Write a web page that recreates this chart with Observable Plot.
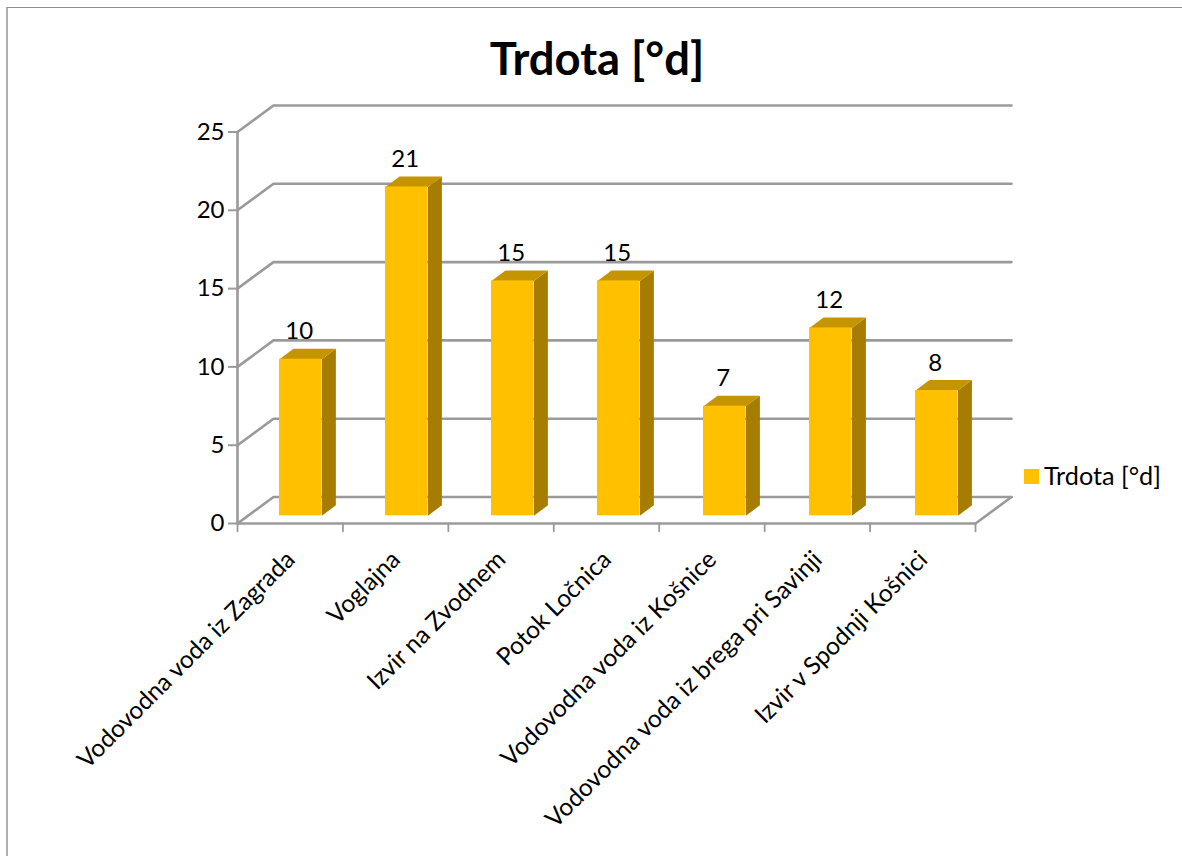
<!DOCTYPE html>
<html>
<head>
<meta charset="utf-8">
<script src="https://cdn.jsdelivr.net/npm/d3@7"></script>
<script src="https://cdn.jsdelivr.net/npm/@observablehq/plot@0.6"></script>
<style>
  html, body { margin: 0; padding: 0; background: #fff; width: 1182px; height: 856px; overflow: hidden; }
  #page { position: relative; width: 1182px; height: 856px; font-family: Lato, sans-serif; color: #000; }
  #frame { position: absolute; left: 6px; top: 7px; width: 1176px; height: 849px; box-sizing: border-box;
           border-left: 2px solid #b0b0b0; border-top: 1px solid #8e8e8e; }
  #title { position: relative; margin: 0; height: 90px; line-height: 116px; text-align: center; padding-left: 12px;
           font-size: 45.4px; font-weight: 700; }
  #legend { position: absolute; left: 1024px; top: 459px; display: flex; align-items: center; font-size: 25.2px; line-height: 32px; }
  #legend i { display: block; width: 15px; height: 15px; background: #ffc000; margin: 2px 5px 0 0; }
  #chart { position: relative; }
  #chart svg { display: block; }
</style>
</head>
<body>
<div id="page">
  <div id="frame"></div>
  <h1 id="title"></h1>
  <div id="chart"></div>
  <div id="legend"><i></i><span id="legend-label"></span></div>
</div>
<script>
const seriesName = "Trdota [°d]";
const categories = [
  "Vodovodna voda iz Zagrada",
  "Voglajna",
  "Izvir na Zvodnem",
  "Potok Ločnica",
  "Vodovodna voda iz Košnice",
  "Vodovodna voda iz brega pri Savinji",
  "Izvir v Spodnji Košnici"
];
const hardness = [10, 21, 15, 15, 7, 12, 8];
const yTicks = [0, 5, 10, 15, 20, 25];

// Oblique projection expressed in scale units: one category slot along x, one degree along y.
const wallDx = 0.3415, wallDy = 1.692;     // floor depth, front edge to back wall
const barLeft = 0.398, barWidth = 0.402;   // front face inside its slot
const barStep = 1.0055;                    // columns sit slightly wider apart than the axis slots
const barBase = 0.49;                      // bars stand part-way back on the floor
const barDx = 0.133, barDy = 0.67;         // depth of each column

const slots = categories.map((_, i) => i);
const bars = categories.map((name, i) => ({
  name,
  value: hardness[i],
  x1: i * barStep + barLeft,
  x2: i * barStep + barLeft + barWidth,
  y1: barBase,
  y2: barBase + hardness[i]
}));

// Polygon vertices for the visible side and top of each column.
const sideFaces = bars.flatMap((b) => [
  {z: b.name, x: b.x2, y: b.y1},
  {z: b.name, x: b.x2 + barDx, y: b.y1 + barDy},
  {z: b.name, x: b.x2 + barDx, y: b.y2 + barDy},
  {z: b.name, x: b.x2, y: b.y2}
]);
const topFaces = bars.flatMap((b) => [
  {z: b.name, x: b.x1, y: b.y2},
  {z: b.name, x: b.x1 + barDx, y: b.y2 + barDy},
  {z: b.name, x: b.x2 + barDx, y: b.y2 + barDy},
  {z: b.name, x: b.x2, y: b.y2}
]);

// Wall lines: each tick runs up the left wall, then along the back wall.
const n = categories.length;
const wallLines = yTicks.flatMap((t) => [
  {z: t, x: 0, y: t},
  {z: t, x: wallDx, y: t + wallDy},
  {z: t, x: n + wallDx, y: t + wallDy}
]);
const floorEdge = [
  {x: 0, y: 0},
  {x: n, y: 0},
  {x: n + wallDx, y: wallDy}
];
const leftEdge = [{x: 0, y: 0}, {x: 0, y: 25}];
const xTickMarks = d3.range(n + 1).flatMap((i) => [
  {z: i, x: i, y: 0},
  {z: i, x: i, y: -0.5}
]);

const grey = "#9a9a9a";
const lineWidth = 2.6;

const chart = Plot.plot({
  width: 1182,
  height: 766,
  marginLeft: 237,
  marginRight: 207,
  marginTop: 41.5,
  marginBottom: 333,
  style: {background: "transparent", fontFamily: "Lato, sans-serif", overflow: "visible"},
  x: {type: "linear", domain: [0, n], axis: null},
  y: {type: "linear", domain: [0, 25], axis: null},
  marks: [
    Plot.line(wallLines, {x: "x", y: "y", z: "z", stroke: grey, strokeWidth: lineWidth}),
    Plot.line(floorEdge, {x: "x", y: "y", stroke: grey, strokeWidth: lineWidth}),
    Plot.line(leftEdge, {x: "x", y: "y", stroke: grey, strokeWidth: lineWidth}),
    Plot.axisY({
      ticks: yTicks, tickSize: 9, tickPadding: 4, stroke: grey, strokeWidth: 2,
      fill: "#000", fontSize: 24, fontWeight: 400, label: null, tickFormat: (d) => d, textStroke: "none"
    }),
    Plot.line(xTickMarks, {x: "x", y: "y", z: "z", stroke: grey, strokeWidth: 1.8}),
    Plot.line(sideFaces, {x: "x", y: "y", z: "z", fill: "#a67d00", stroke: null}),
    Plot.line(topFaces, {x: "x", y: "y", z: "z", fill: "#c49500", stroke: null}),
    Plot.rect(bars, {x1: "x1", x2: "x2", y1: "y1", y2: "y2", fill: "#ffc000"}),
    Plot.text(bars, {
      x: (b) => (b.x1 + b.x2) / 2,
      y: (b) => b.y2 + barDy,
      text: "value",
      dx: -1.5,
      dy: -17,
      fontSize: 24,
      fill: "#000"
    }),
    Plot.text(slots, {
      x: (i) => i + 0.5,
      y: 0,
      text: (i) => categories[i],
      rotate: -45,
      textAnchor: "end",
      dy: 32,
      dx: 0.5,
      fontSize: 24.5,
      fill: "#000"
    })
  ]
});

document.getElementById("title").textContent = seriesName;
document.getElementById("legend-label").textContent = seriesName;
document.getElementById("chart").append(chart);
</script>
</body>
</html>
